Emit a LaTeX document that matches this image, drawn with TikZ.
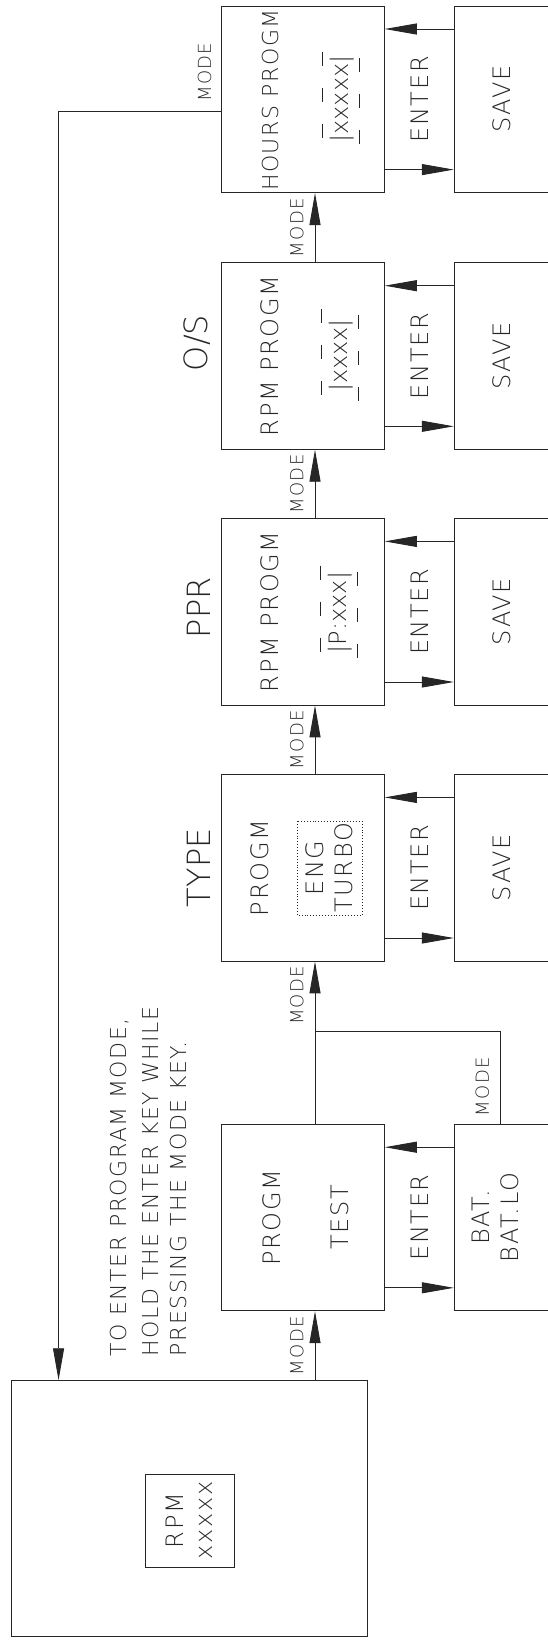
\documentclass[tikz,border=0pt]{standalone}
\usepackage{fontspec}
\setmainfont{DejaVu Sans ExtraLight}[LetterSpace=7]
\newfontfamily\plainface{DejaVu Sans ExtraLight}
\usetikzlibrary{arrows.meta}

\newcommand\bodysize{\fontsize{24}{29}\selectfont}
\newcommand\notesize{\fontsize{22}{29}\selectfont}
\newcommand\modesize{\fontsize{18}{22}\selectfont}
\newcommand\headsize{\plainface\fontsize{32}{38}\selectfont}
\newcommand\readsize{\plainface\fontsize{24}{29}\selectfont}

\tikzset{
  stage/.style={draw, minimum width=162.6pt, minimum height=186.5pt, inner sep=0pt},
  txt/.style={rotate=90, font=\bodysize, inner sep=0pt},
  readout/.style={rotate=90, font=\readsize, inner sep=0pt},
  modetag/.style={rotate=90, font=\modesize, anchor=south, inner sep=11pt},
  head/.style={rotate=90, font=\headsize, anchor=south, inner sep=10pt},
  flow/.style={-{Triangle[length=32pt,width=11pt]}},
  segs/.style={dash pattern=on 14pt off 22pt},
}

\begin{document}
\begin{tikzpicture}[x=1pt, y=-1pt, line width=0.9pt, color=black!85]
  \useasboundingbox (0,0) rectangle (547,1641);

  % run display
  \node[draw, minimum width=356pt, minimum height=256pt] (run) at (189.7,1508.7) {};
  \node[txt, draw, align=center, minimum width=93pt, minimum height=89pt] (rpm) at (189.5,1520.5) {RPM\\xxxxx};

  % program stages
  \node[stage] (hours) at (303,99.3) {};
  \node[stage] (os) at (303,356) {};
  \node[stage] (ppr) at (303,611.7) {};
  \node[stage] (type) at (303,867.7) {};
  \node[stage] (test) at (303,1217.5) {};

  % save side
  \node[stage] (save1) at (535.6,99.3) {};
  \node[stage] (save2) at (535.6,356) {};
  \node[stage] (save3) at (535.6,611.7) {};
  \node[stage] (save4) at (535.6,867.7) {};
  \node[stage] (bat) at (535.6,1217.5) {};

  \node[txt] (savetxt1) at (501.7,99.3) {SAVE};
  \node[txt] (savetxt2) at (501.7,356) {SAVE};
  \node[txt] (savetxt3) at (501.7,611.7) {SAVE};
  \node[txt] (savetxt4) at (501.7,867.7) {SAVE};
  \node[txt, align=center] (battxt) at (495,1217.5) {BAT.\\BAT.LO};

  % stage texts
  \node[txt] (progm-test) at (271.7,1217.5) {PROGM};
  \node[txt] (testtxt) at (340,1217.5) {TEST};
  \node[txt] (progm-type) at (260,868) {PROGM};
  \node[txt, draw, dotted, align=center, minimum width=94pt, minimum height=65pt] (engturbo) at (329.5,868) {ENG\\TURBO};
  \node[txt] (progm-ppr) at (270,611.7) {RPM PROGM};
  \node[txt] (progm-os) at (270,356) {RPM PROGM};
  \node[txt, font=\notesize] (progm-hours) at (270,100) {HOURS PROGM};

  % readouts
  \node[readout] (disp-ppr) at (340,612.5) {|P:xxx|};
  \node[readout] (disp-os) at (341,355.5) {|xxxx|};
  \node[readout] (disp-hours) at (342,99) {|xxxxx|};
  \foreach \d in {disp-ppr, disp-os, disp-hours} {
    \draw[segs] ([shift={(-20,-47)}]\d.center) -- ([shift={(-20,39)}]\d.center);
    \draw[segs] ([shift={(17,-41)}]\d.center) -- ([shift={(17,48)}]\d.center);
  }

  % headings
  \node[head] (lbl-type) at (type.west) {TYPE};
  \node[head] (lbl-ppr) at ([yshift=4pt]ppr.west) {PPR};
  \node[head] (lbl-os) at ([yshift=13pt]os.west) {O/S};

  % enter / save
  \foreach \a/\b in {hours/save1, os/save2, ppr/save3, type/save4, test/bat} {
    \draw[flow] ([yshift=23.4pt]\a.south east) -- ([yshift=23.4pt]\b.south west);
    \draw[flow] ([yshift=-23.4pt]\b.north west) -- ([yshift=-23.4pt]\a.north east);
    \path (\a.east) -- node[txt] (enter-\a) {ENTER} (\b.west);
  }

  % mode chain
  \coordinate (m0) at ([xshift=12pt]test.south);
  \draw[flow] (m0 |- run.north) -- node[modetag] (mode-run) {MODE} (m0);
  \draw[flow] ([xshift=12pt]test.north) -- node[modetag, pos=0.79] (mode-test) {MODE} ([xshift=12pt]type.south);
  \foreach \a/\b in {type/ppr, ppr/os, os/hours}
    \draw[flow] ([xshift=12pt]\a.north) -- node[modetag] (mode-\a) {MODE} ([xshift=12pt]\b.south);

  \coordinate (join) at (315,1031);
  \draw ([xshift=46.7pt]bat.north west) |- node[modetag, pos=0.2] (mode-bat) {MODE} (join);

  \draw[flow] ([yshift=-11.7pt]hours.west) -| node[modetag, pos=0.051, anchor=west, inner sep=9pt] (mode-hours) {MODE} ([xshift=47.3pt]run.north west);

  % note
  \node[txt, font=\notesize, anchor=west] (note1) at (120,1356.7) {TO ENTER PROGRAM MODE,};
  \node[txt, font=\notesize, anchor=west] (note2) at (150,1356.7) {HOLD THE ENTER KEY WHILE};
  \node[txt, font=\notesize, anchor=west] (note3) at (178,1356.7) {PRESSING THE MODE KEY.};
\end{tikzpicture}
\end{document}
